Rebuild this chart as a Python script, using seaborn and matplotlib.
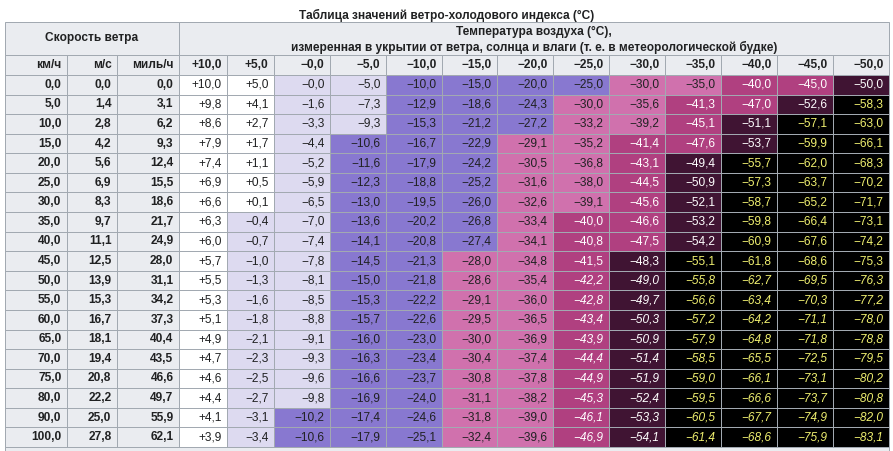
import numpy as np
import pandas as pd
import seaborn as sns
import matplotlib
matplotlib.use("Agg")
import matplotlib.pyplot as plt
from matplotlib.colors import ListedColormap, BoundaryNorm
from matplotlib.patches import Rectangle
from matplotlib.transforms import offset_copy

# ---------------- data ----------------
title = "Таблица значений ветро-холодового индекса (°C)"
speed_header = "Скорость ветра"
temp_header = ["Температура воздуха (°C),",
               "измеренная в укрытии от ветра, солнца и влаги (т. е. в метеорологической будке)"]
speed_units = ["км/ч", "м/с", "миль/ч"]
temp_labels = ["+10,0", "+5,0", "−0,0", "−5,0", "−10,0", "−15,0", "−20,0",
               "−25,0", "−30,0", "−35,0", "−40,0", "−45,0", "−50,0"]
temps = [10, 5, -0.0, -5, -10, -15, -20, -25, -30, -35, -40, -45, -50]

speed_kmh = [0.0, 5.0, 10.0, 15.0, 20.0, 25.0, 30.0, 35.0, 40.0, 45.0, 50.0,
             55.0, 60.0, 65.0, 70.0, 75.0, 80.0, 90.0, 100.0]
speed_ms = [0.0, 1.4, 2.8, 4.2, 5.6, 6.9, 8.3, 9.7, 11.1, 12.5, 13.9,
            15.3, 16.7, 18.1, 19.4, 20.8, 22.2, 25.0, 27.8]
speed_mph = [0.0, 3.1, 6.2, 9.3, 12.4, 15.5, 18.6, 21.7, 24.9, 28.0, 31.1,
             34.2, 37.3, 40.4, 43.5, 46.6, 49.7, 55.9, 62.1]

wc_p10 = [10.0, 9.8, 8.6, 7.9, 7.4, 6.9, 6.6, 6.3, 6.0, 5.7, 5.5, 5.3, 5.1, 4.9, 4.7, 4.6, 4.4, 4.1, 3.9]
wc_p5 = [5.0, 4.1, 2.7, 1.7, 1.1, 0.5, 0.1, -0.4, -0.7, -1.0, -1.3, -1.6, -1.8, -2.1, -2.3, -2.5, -2.7, -3.1, -3.4]
wc_0 = [-0.0, -1.6, -3.3, -4.4, -5.2, -5.9, -6.5, -7.0, -7.4, -7.8, -8.1, -8.5, -8.8, -9.1, -9.3, -9.6, -9.8, -10.2, -10.6]
wc_m5 = [-5.0, -7.3, -9.3, -10.6, -11.6, -12.3, -13.0, -13.6, -14.1, -14.5, -15.0, -15.3, -15.7, -16.0, -16.3, -16.6, -16.9, -17.4, -17.9]
wc_m10 = [-10.0, -12.9, -15.3, -16.7, -17.9, -18.8, -19.5, -20.2, -20.8, -21.3, -21.8, -22.2, -22.6, -23.0, -23.4, -23.7, -24.0, -24.6, -25.1]
wc_m15 = [-15.0, -18.6, -21.2, -22.9, -24.2, -25.2, -26.0, -26.8, -27.4, -28.0, -28.6, -29.1, -29.5, -30.0, -30.4, -30.8, -31.1, -31.8, -32.4]
wc_m20 = [-20.0, -24.3, -27.2, -29.1, -30.5, -31.6, -32.6, -33.4, -34.1, -34.8, -35.4, -36.0, -36.5, -36.9, -37.4, -37.8, -38.2, -39.0, -39.6]
wc_m25 = [-25.0, -30.0, -33.2, -35.2, -36.8, -38.0, -39.1, -40.0, -40.8, -41.5, -42.2, -42.8, -43.4, -43.9, -44.4, -44.9, -45.3, -46.1, -46.9]
wc_m30 = [-30.0, -35.6, -39.2, -41.4, -43.1, -44.5, -45.6, -46.6, -47.5, -48.3, -49.0, -49.7, -50.3, -50.9, -51.4, -51.9, -52.4, -53.3, -54.1]
wc_m35 = [-35.0, -41.3, -45.1, -47.6, -49.4, -50.9, -52.1, -53.2, -54.2, -55.1, -55.8, -56.6, -57.2, -57.9, -58.5, -59.0, -59.5, -60.5, -61.4]
wc_m40 = [-40.0, -47.0, -51.1, -53.7, -55.7, -57.3, -58.7, -59.8, -60.9, -61.8, -62.7, -63.4, -64.2, -64.8, -65.5, -66.1, -66.6, -67.7, -68.6]
wc_m45 = [-45.0, -52.6, -57.1, -59.9, -62.0, -63.7, -65.2, -66.4, -67.6, -68.6, -69.5, -70.3, -71.1, -71.8, -72.5, -73.1, -73.7, -74.9, -75.9]
wc_m50 = [-50.0, -58.3, -63.0, -66.1, -68.3, -70.2, -71.7, -73.1, -74.2, -75.3, -76.3, -77.2, -78.0, -78.8, -79.5, -80.2, -80.8, -82.0, -83.1]
wc_columns = [wc_p10, wc_p5, wc_0, wc_m5, wc_m10, wc_m15, wc_m20, wc_m25,
              wc_m30, wc_m35, wc_m40, wc_m45, wc_m50]

# colour classes (value bands)
band_edges = [-100, -54.95, -47.95, -39.95, -27.95, -9.95, 0.05, 20]
band_colors = ["#000000", "#401433", "#b04080", "#d071ad", "#8878d0", "#dddaf0", "#ffffff"]
band_text = ["#f0f070", "#ffffff", "#ffffff", "#202122", "#202122", "#202122", "#202122"]
italic_from_speed = 50.0
italic_from_temp = -25

# ---------------- style ----------------
GRAY = "#eaecf0"
BORDER = "#a2a9b1"
TXT = "#202122"
FS = 8.6
LW = 0.72

sns.set_style("white")
plt.rcParams["font.family"] = ["Liberation Sans", "DejaVu Sans"]

W, H = 893, 451
fig = plt.figure(figsize=(W / 100, H / 100), dpi=100)

col_edges = [5, 67, 117, 179, 227, 274, 330, 386, 442, 497, 553, 609, 665, 721, 777, 833, 889]
x0, x1 = col_edges[0], col_edges[-1]
edge_idx = np.arange(len(col_edges))


def fwd(x):
    return np.interp(x, edge_idx, col_edges)


def inv(p):
    return np.interp(p, col_edges, edge_idx)


data_top, data_bot, head_top = 75, 447, 22
ax = fig.add_axes([x0 / W, 1 - data_bot / H, (x1 - x0) / W, (data_bot - data_top) / H])
ax.set_facecolor(BORDER)

n = len(speed_kmh)
ncol = 3 + len(temps)
cols = speed_units + temp_labels

speed_mat = np.full((n, ncol), np.nan)
speed_mat[:, :3] = np.column_stack([speed_kmh, speed_ms, speed_mph])
temp_mat = np.full((n, ncol), np.nan)
temp_mat[:, 3:] = np.column_stack(wc_columns)
speed_df = pd.DataFrame(speed_mat, columns=cols, index=speed_kmh)
temp_df = pd.DataFrame(temp_mat, columns=cols, index=speed_kmh)

cmap = ListedColormap(band_colors)
norm = BoundaryNorm(band_edges, cmap.N)

sns.heatmap(speed_df, cmap=ListedColormap([GRAY]), cbar=False, linewidths=LW,
            linecolor=BORDER, xticklabels=False, yticklabels=False, ax=ax,
            antialiased=True)
sns.heatmap(temp_df, cmap=cmap, norm=norm, cbar=False, linewidths=LW,
            linecolor=BORDER, xticklabels=False, yticklabels=False, ax=ax,
            antialiased=True)
ax.set_facecolor(BORDER)

ax.set_xscale("function", functions=(fwd, inv))
ax.set_xlim(0, ncol)
ax.set_ylim(n, 0)
ax.set_xticks([])
ax.set_yticks([])
ax.set_xlabel("")
ax.set_ylabel("")
for s in ax.spines.values():
    s.set_visible(True)
    s.set_color(BORDER)
    s.set_linewidth(LW)

right_pad = offset_copy(ax.transData, fig=fig, x=-5.5, y=0, units="dots")


def fmt(v, signed):
    s = f"{abs(v):.1f}".replace(".", ",")
    if not signed:
        return s
    return ("+" if v > 0 else "−") + s


# speed columns
for j, col in enumerate([speed_kmh, speed_ms, speed_mph]):
    for i, v in enumerate(col):
        ax.text(j + 1, i + 0.5, fmt(v, False), ha="right", va="center",
                fontsize=FS, fontweight="bold", color=TXT, transform=right_pad)

# wind-chill values
for j, col in enumerate(wc_columns):
    for i, v in enumerate(col):
        b = int(np.searchsorted(band_edges, v, side="right") - 1)
        italic = speed_kmh[i] >= italic_from_speed and temps[j] <= italic_from_temp
        ax.text(3 + j + 1, i + 0.5, fmt(v, True), ha="right", va="center",
                fontsize=FS, color=band_text[b],
                fontstyle="italic" if italic else "normal", transform=right_pad)

# ---------------- header ----------------
head_h = data_top - head_top
row1_h = 33
axh = fig.add_axes([x0 / W, 1 - data_top / H, (x1 - x0) / W, head_h / H], sharex=ax)
axh.set_ylim(head_h, 0)
axh.axis("off")

axh.add_patch(Rectangle((0, 0), 3, row1_h, facecolor=GRAY, edgecolor=BORDER, lw=LW, clip_on=False))
axh.add_patch(Rectangle((3, 0), ncol - 3, row1_h, facecolor=GRAY, edgecolor=BORDER, lw=LW, clip_on=False))
for j in range(ncol):
    axh.add_patch(Rectangle((j, row1_h), 1, head_h - row1_h, facecolor=GRAY,
                            edgecolor=BORDER, lw=LW, clip_on=False))

hpad = offset_copy(axh.transData, fig=fig, x=-5.5, y=0, units="dots")
for j, lab in enumerate(cols):
    axh.text(j + 1, row1_h + (head_h - row1_h) / 2, lab, ha="right", va="center",
             fontsize=FS, fontweight="bold", color=TXT, transform=hpad)

cx_speed = float(inv((fwd(0) + fwd(3)) / 2))
cx_temp = float(inv((fwd(3) + fwd(ncol)) / 2))
axh.text(cx_speed, 16.5, speed_header, ha="center", va="center",
         fontsize=FS, fontweight="bold", color=TXT)
axh.text(cx_temp, 9.7, temp_header[0], ha="center", va="center",
         fontsize=FS, fontweight="bold", color=TXT)
axh.text(cx_temp, 25.0, temp_header[1], ha="center", va="center",
         fontsize=FS, fontweight="bold", color=TXT)

# bottom strip of the table
fig.patches.append(Rectangle((x0 / W, 0), (x1 - x0) / W, (H - data_bot) / H,
                             transform=fig.transFigure, facecolor=GRAY,
                             edgecolor=BORDER, lw=LW))

fig.text(447 / W, 1 - 15 / H, title, ha="center", va="center",
         fontsize=FS, fontweight="bold", color=TXT)

fig.savefig("out.png", dpi=100)
